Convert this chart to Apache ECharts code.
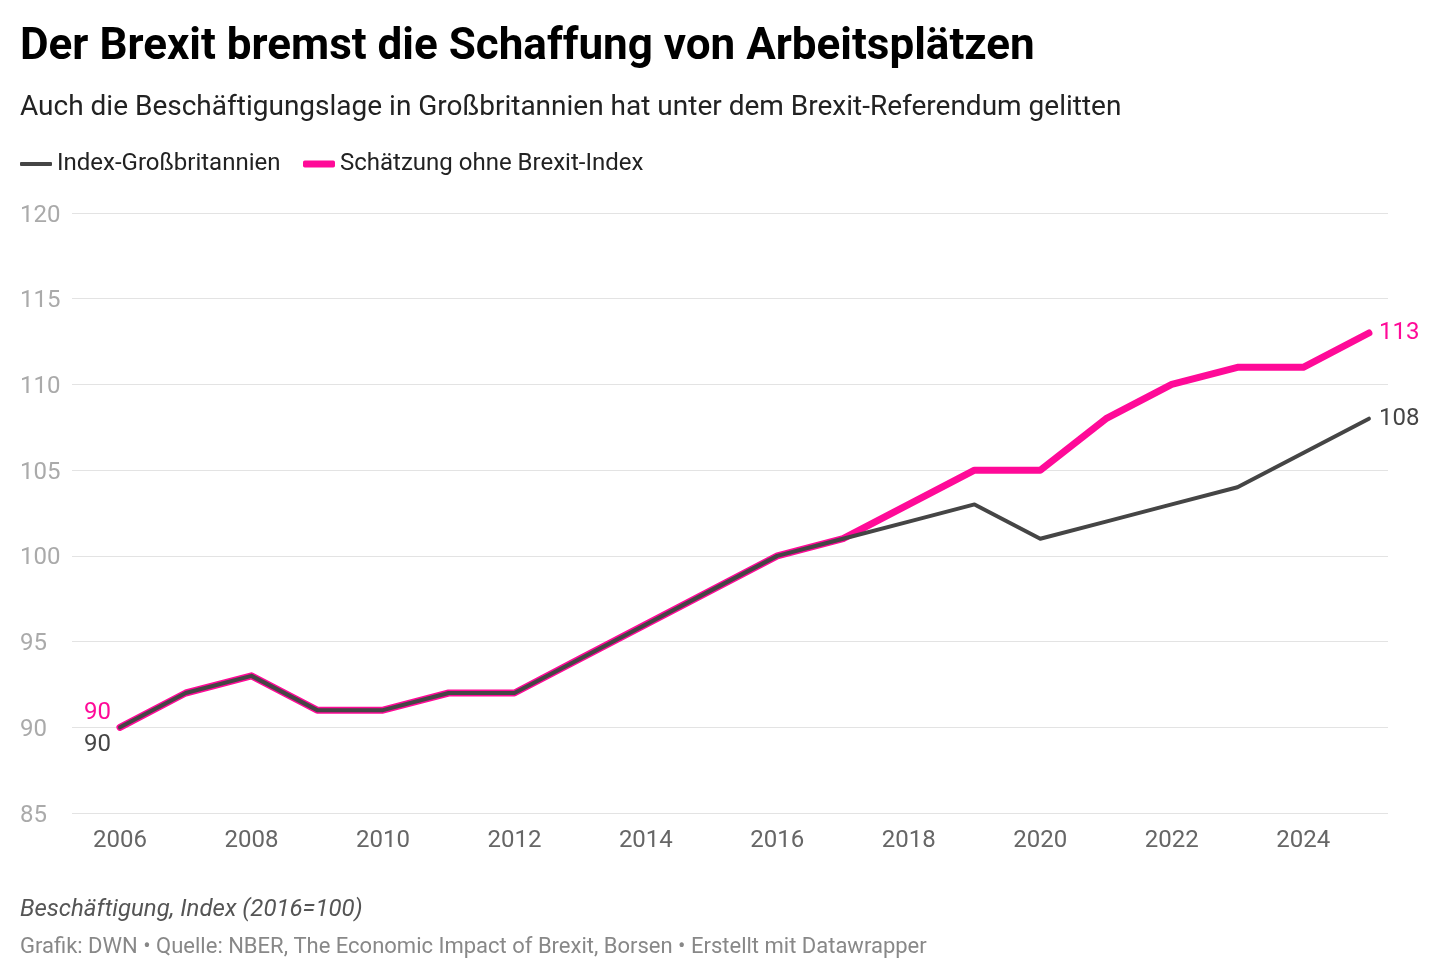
<!DOCTYPE html>
<html>
<head>
<meta charset="utf-8">
<script src="https://cdn.jsdelivr.net/npm/echarts@6/dist/echarts.min.js"></script>
<style>
html, body { margin: 0; padding: 0; background: #fff; }
#chart { width: 1440px; height: 978px; }
</style>
</head>
<body>
<div id="chart"></div>
<script>
var years = [2006, 2007, 2008, 2009, 2010, 2011, 2012, 2013, 2014, 2015,
             2016, 2017, 2018, 2019, 2020, 2021, 2022, 2023, 2024, 2025];
var indexUK = [90, 92, 93, 91, 91, 92, 92, 94, 96, 98,
               100, 101, 102, 103, 101, 102, 103, 104, 106, 108];
var ohneBrexit = [90, 92, 93, 91, 91, 92, 92, 94, 96, 98,
                  100, 101, 103, 105, 105, 108, 110, 111, 111, 113];
var xTicks = [2006, 2008, 2010, 2012, 2014, 2016, 2018, 2020, 2022, 2024];

var GRAY = '#454545';
var PINK = '#ff0a98';
var FONT = 'Roboto';

// erste und letzte Werte beschriften
function buildData(vals, color, startOffset) {
  var out = [];
  for (var i = 0; i < vals.length; i++) {
    var item = { value: [years[i], vals[i]] };
    if (i === 0) {
      item.label = { show: true, position: 'left', distance: 9, offset: [0, startOffset],
                     color: color, fontSize: 24, fontFamily: FONT };
    } else if (i === vals.length - 1) {
      item.label = { show: true, position: 'right', distance: 10,
                     color: color, fontSize: 24, fontFamily: FONT };
    }
    out.push(item);
  }
  return out;
}

var myChart = echarts.init(document.getElementById('chart'));

var option = {
  animation: false,
  backgroundColor: '#fff',
  title: [
    { text: 'Der Brexit bremst die Schaffung von Arbeitsplätzen', left: 20, top: 26, padding: 0,
      textStyle: { fontFamily: FONT, fontWeight: 'bold', fontSize: 44, color: '#000' } },
    { text: 'Auch die Beschäftigungslage in Großbritannien hat unter dem Brexit-Referendum gelitten',
      left: 20, top: 94, padding: 0,
      textStyle: { fontFamily: FONT, fontWeight: 'normal', fontSize: 28, color: '#222' } },
    { text: 'Beschäftigung, Index (2016=100)', left: 20, top: 898, padding: 0,
      textStyle: { fontFamily: FONT, fontStyle: 'italic', fontWeight: 'normal', fontSize: 24, color: '#555' } },
    { text: 'Grafik: DWN • Quelle: NBER, The Economic Impact of Brexit, Borsen • Erstellt mit Datawrapper',
      left: 20, top: 936, padding: 0,
      textStyle: { fontFamily: FONT, fontWeight: 'normal', fontSize: 22, color: '#888' } }
  ],
  legend: [
    { data: ['Index-Großbritannien'], left: 20, top: 152, padding: 0, icon: 'roundRect',
      itemWidth: 32, itemHeight: 4,
      textStyle: { fontFamily: FONT, fontSize: 24, color: '#222' } },
    { data: ['Schätzung ohne Brexit-Index'], left: 303, top: 152, padding: 0, icon: 'roundRect',
      itemWidth: 32, itemHeight: 7,
      textStyle: { fontFamily: FONT, fontSize: 24, color: '#222' } }
  ],
  grid: { left: 72, right: 52, top: 213, bottom: 165 },
  xAxis: {
    type: 'value',
    min: 2005.27,
    max: 2025.29,
    axisLine: { show: false },
    axisTick: { show: false },
    splitLine: { show: false },
    axisLabel: {
      customValues: xTicks,
      margin: 16,
      color: '#666',
      fontFamily: FONT,
      fontSize: 24,
      formatter: function (v) { return String(v); }
    }
  },
  yAxis: {
    type: 'value',
    min: 85,
    max: 120,
    interval: 5,
    axisLine: { show: false },
    axisTick: { show: false },
    splitLine: { lineStyle: { color: '#e3e3e3', width: 1 } },
    axisLabel: {
      align: 'left',
      verticalAlign: 'top',
      lineHeight: 5,
      margin: 52,
      color: '#aaa',
      fontFamily: FONT,
      fontSize: 24
    }
  },
  series: [
    {
      name: 'Schätzung ohne Brexit-Index',
      type: 'line',
      color: PINK,
      symbol: 'circle',
      symbolSize: 0,
      showSymbol: true,
      z: 2,
      lineStyle: { width: 7, color: PINK, cap: 'round', join: 'round' },
      data: buildData(ohneBrexit, PINK, -14)
    },
    {
      name: 'Index-Großbritannien',
      type: 'line',
      color: GRAY,
      symbol: 'circle',
      symbolSize: 0,
      showSymbol: true,
      z: 3,
      lineStyle: { width: 4, color: GRAY, cap: 'round', join: 'round' },
      data: buildData(indexUK, GRAY, 18)
    }
  ]
};

myChart.setOption(option);
</script>
</body>
</html>
